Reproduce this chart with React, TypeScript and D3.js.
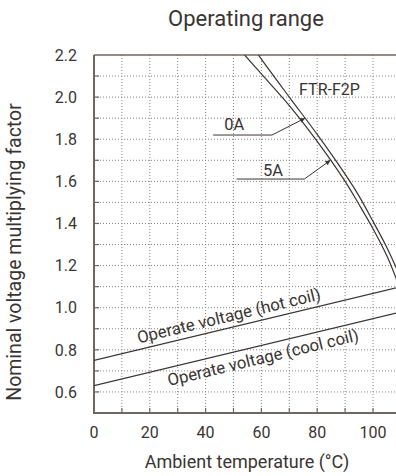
import * as d3 from 'd3'

// Operating range chart: nominal voltage multiplying factor vs ambient temp
const W = 396
const H = 476
const INK = '#3a3532'
const AXIS = '#6e6762'
const FONT = 'Roboto, "Noto Sans", sans-serif'

const X_TICKS = [0, 20, 40, 60, 80, 100]
const Y_TICKS = [0.6, 0.8, 1.0, 1.2, 1.4, 1.6, 1.8, 2.0, 2.2]

// upper limit curves (°C -> factor)
const T_0A = [58, 60, 70, 80, 90, 95, 100, 105, 110]
const V_0A = [2.22, 2.18, 2.0, 1.823, 1.634, 1.53, 1.41, 1.285, 1.14]
const T_5A = [54, 60, 70, 80, 90, 95, 100, 105, 110]
const V_5A = [2.2, 2.11, 1.96, 1.79, 1.6, 1.49, 1.375, 1.245, 1.08]

// operate voltage lines
const COIL_T = [0, 110]
const HOT_V = [0.75, 1.1]
const COOL_V = [0.63, 0.98]

export default function App() {
  const x = d3.scaleLinear().domain([0, 110]).range([94, 400.9])
  const y = d3.scaleLinear().domain([0.5, 2.2]).range([413, 55])

  const line = d3.line<[number, number]>()
    .x(d => x(d[0]))
    .y(d => y(d[1]))
    .curve(d3.curveCatmullRom.alpha(0.5))

  const zip = (ts: number[], vs: number[]) => ts.map((t, i) => [t, vs[i]] as [number, number])
  const curves = [zip(T_0A, V_0A), zip(T_5A, V_5A)]

  // t on a curve for a given factor
  const tAt = (ts: number[], vs: number[], v: number) =>
    d3.scaleLinear().domain(vs.slice().reverse()).range(ts.slice().reverse())(v)

  const vGrid = d3.range(10, 111, 10)
  const hGrid = d3.range(6, 22).map(d => d / 10)

  // labelled arrows pointing at the curves
  const arrows = [
    { text: '0A', lx: 50.3, lv: 1.845, from: 42.7, to: 63.8, bv: 1.82, tipT: tAt(T_0A, V_0A, 1.9), tipV: 1.9 },
    { text: '5A', lx: 64.2, lv: 1.625, from: 51.1, to: 75.4, bv: 1.611, tipT: tAt(T_5A, V_5A, 1.7), tipV: 1.7 },
  ]

  const coilLabel = (vs: number[], t0: number, off: number, text: string) => {
    const v0 = vs[0] + (vs[1] - vs[0]) * (t0 - COIL_T[0]) / (COIL_T[1] - COIL_T[0])
    const ang = Math.atan2(y(vs[1]) - y(vs[0]), x(COIL_T[1]) - x(COIL_T[0])) * 180 / Math.PI
    return (
      <text transform={`translate(${x(t0)},${y(v0)}) rotate(${ang})`} y={off}
        fontSize={16.8} fill={INK}>{text}</text>
    )
  }

  return (
    <svg width={W} height={H} style={{ position: 'absolute', left: 0, top: 0, fontFamily: FONT }}>
      <defs>
        <clipPath id="plot">
          <rect x={x(0)} y={y(2.2)} width={x(110) - x(0)} height={y(0.5) - y(2.2)} />
        </clipPath>
        <marker id="arr" viewBox="0 0 10 10" refX={10} refY={5} markerWidth={9} markerHeight={5}
          markerUnits="userSpaceOnUse" orient="auto">
          <path d="M0,0L10,5L0,10z" fill={INK} />
        </marker>
      </defs>

      <text x={246} y={26} textAnchor="middle" fontSize={22} fill={INK}>Operating range</text>

      {/* dotted grid */}
      {vGrid.map(t => (
        <line key={'vg' + t} x1={x(t)} x2={x(t)} y1={y(0.5)} y2={y(2.2)}
          stroke="#8a8480" strokeWidth={1} strokeDasharray="1,2" />
      ))}
      {hGrid.map(v => (
        <line key={'hg' + v} x1={x(0)} x2={x(110)} y1={y(v)} y2={y(v)}
          stroke="#8a8480" strokeWidth={1} strokeDasharray="1,2" />
      ))}

      {/* frame */}
      <line x1={x(0)} x2={x(110)} y1={y(2.2)} y2={y(2.2)} stroke={AXIS} strokeWidth={1.3} />
      <line x1={x(0)} x2={x(0)} y1={y(0.5) + 1} y2={y(2.2)} stroke={AXIS} strokeWidth={2} />
      <line x1={x(0)} x2={x(110)} y1={y(0.5)} y2={y(0.5)} stroke={AXIS} strokeWidth={2} />
      {hGrid.map(v => (
        <line key={'yt' + v} x1={x(0)} x2={x(0) + 5} y1={y(v)} y2={y(v)} stroke={AXIS} strokeWidth={1.2} />
      ))}
      {vGrid.map(t => (
        <line key={'xt' + t} x1={x(t)} x2={x(t)} y1={y(0.5)} y2={y(0.5) - 5} stroke={AXIS} strokeWidth={1.2} />
      ))}

      {/* tick labels */}
      {Y_TICKS.map(v => (
        <text key={'yl' + v} x={77} y={y(v)} dy="0.36em" textAnchor="end" fontSize={16} fill={INK}>
          {v.toFixed(1)}
        </text>
      ))}
      {X_TICKS.map(t => (
        <text key={'xl' + t} x={x(t)} y={438} textAnchor="middle" fontSize={16} fill={INK}>{t}</text>
      ))}

      <text x={247} y={468} textAnchor="middle" fontSize={18} fill={INK}>Ambient temperature (°C)</text>
      <text transform="translate(21,252) rotate(-90)" textAnchor="middle" fontSize={19.5} fill={INK}>
        Nominal voltage multiplying factor
      </text>

      {/* data lines */}
      <g clipPath="url(#plot)" fill="none" stroke={INK} strokeWidth={1.2}>
        {curves.map((c, i) => <path key={i} d={line(c) || ''} />)}
        <path d={line(zip(COIL_T, HOT_V)) || ''} />
        <path d={line(zip(COIL_T, COOL_V)) || ''} />
      </g>

      {/* annotations */}
      <text x={x(84.4)} y={y(2.01)} textAnchor="middle" fontSize={16} fill={INK}>FTR-F2P</text>
      {arrows.map(a => (
        <g key={a.text}>
          <text x={x(a.lx)} y={y(a.lv)} textAnchor="middle" fontSize={16.5} fill={INK}>{a.text}</text>
          <polyline points={`${x(a.from)},${y(a.bv)} ${x(a.to)},${y(a.bv)} ${x(a.tipT)},${y(a.tipV)}`}
            fill="none" stroke={INK} strokeWidth={1} markerEnd="url(#arr)" />
        </g>
      ))}

      {coilLabel(HOT_V, 16.5, -6, 'Operate voltage (hot coil)')}
      {coilLabel(COOL_V, 25.4, 18, 'Operate voltage (cool coil)')}
    </svg>
  )
}
